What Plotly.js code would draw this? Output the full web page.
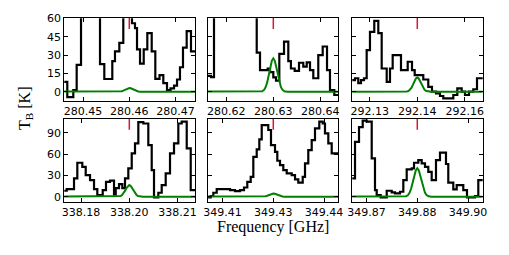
<!DOCTYPE html>
<html><head><meta charset="utf-8">
<script src="https://cdn.plot.ly/plotly-3.0.1.min.js"></script>
<style>html,body{margin:0;padding:0;background:#fff;} #chart{width:509px;height:255px;}</style>
</head><body><div id="chart"></div>
<script>
// Panel centre (rest) frequencies, GHz -- red markers
const lineFreqs = [280.46, 280.63, 292.145, 338.195, 349.43, 349.885];
// Tick positions (GHz) and their printed labels
const tickVals = [[280.45,280.46,280.47],[280.62,280.63,280.64],[292.13,292.145,292.16],
                  [338.18,338.195,338.21],[349.415,349.43,349.445],[349.87,349.885,349.90]];
const tickText = [["280.45","280.46","280.47"],["280.62","280.63","280.64"],["292.13","292.14","292.16"],
                  ["338.18","338.20","338.21"],["349.41","349.43","349.44"],["349.87","349.88","349.90"]];
const topYTicks = [0, 15, 30, 45, 60];
const botYTicks = [0, 30, 60, 90];

// Observed spectra: channel left edges as offsets from centre (MHz), brightness temperature (K)
const p1_dv = [-14.2,-13.42,-12.12,-11.39,-10.45,-6.34,-5.41,-3.68,-3.10,-2.16,-1.30,0.58,1.23,1.67,2.32,3.12,3.90,4.85,5.63,6.54,7.36,8.16,8.92,9.68,10.33,10.97,11.62,12.42,13.35,14.3];
const p1_tb = [8,-4.5,1.4,22,95,22.6,10.4,25,33,40,75,56,52,34.6,23,34.6,48,33,10.5,13.6,7,1.4,2.7,5,10,20,36,49.5,33,33];

const p2_dv = [-14.1,-13.26,-12.62,-3.53,-2.83,-1.19,-0.70,0,0.57,1.28,2.28,3.19,3.75,4.55,5.47,6.38,7.11,7.81,8.51,9.57,10.51,11.43,12.06,12.98,14.0];
const p2_tb = [13,12,80,32,17.7,19,16,11.7,9,31,41,25,19,17,23.7,20.5,24,17.7,11,30,37,17.7,1.4,-2.7,-2.7];

const p3_dv = [-20.7,-19.67,-18.63,-17.78,-16.83,-15.98,-14.94,-13.58,-12.31,-11.24,-9.66,-8.62,-7.77,-5.15,-3.03,-1.67,-0.82,1.89,3.47,4.64,5.90,7.17,8.21,11.37,12.63,14.02,15.06,16.32,17.68,18.85,20.8];
const p3_tb = [9.5,11,7,9.5,11,34,49,58,48,19,8,19,30,17.7,24.5,17.7,13.6,10,4,0,-1.4,-3.5,-5.5,-2.7,2.7,0,-2.7,0,2,11,11];

const p4_dv = [-20.4,-19.44,-17.17,-16.15,-14.60,-13.54,-12.20,-10.96,-9.94,-8.26,-7.24,-5.99,-4.75,-4.22,-3.20,-2.17,-1.34,-0.31,0.75,1.77,2.80,4.35,5.90,6.96,7.67,9.01,10.06,11.30,12.64,13.88,15.22,16.27,17.83,19.07,20.5];
const p4_tb = [8.4,10.8,25.8,47.8,42,30.5,23.4,10.8,2.3,9.4,21,22.5,3,12,17.8,12,25.8,40,61,75,105,103,72.6,37.5,-1,5.6,16.4,32.8,61,75,103,105.5,68,9.4,9.4];

const p5_dv = [-19.5,-18.48,-17.71,-16.71,-12.78,-11.31,-9.83,-8.65,-7.68,-6.67,-5.90,-4.90,-4.13,-3.42,-1.48,-0.68,0.50,1.18,1.98,2.95,3.96,5.43,6.41,7.38,8.68,9.36,10.33,11.34,12.31,13.58,14.59,15.26,16.24,17.24,19.4];
const p5_tb = [-1,1,5.6,10.8,9.4,8,9.4,13,21,28,56,66.6,80.6,100.8,93.8,72.7,63,50.6,44.5,37.5,32.8,30.5,24.4,19.7,28,47,65.6,79.7,96,105.5,103,89,75,61,61];

const p6_dv = [-19.4,-18.39,-17.21,-16.12,-14.94,-13.46,-12.49,-11.99,-10.81,-9.03,-7.56,-6.58,-5.11,-4.13,-3.13,-1.65,-0.97,0.30,1.30,2.27,3.25,4.25,5.52,6.70,8.47,9.15,10.63,11.63,13.58,14.67,17.04,18.01,19.5];
const p6_tb = [25.8,77,98,107,105.5,54,9.4,2.3,-1,8.4,6,4.7,7,23.4,38.4,40,47.8,51.6,47,42,35,23.4,51.6,62,46,19.7,10.3,16.4,9.4,-1,1,23.4,23.4];

// Model (green) profiles: offsets from centre (MHz) and temperature (K)
const m1_dv = [-25,-3.0,-2.36,-1.93,-1.61,-1.29,-0.97,-0.64,-0.32,0,0.32,0.64,0.97,1.29,1.61,1.93,2.36,3.0,25];
const m1_tb = [0,0,0.05,0.18,0.43,0.86,1.49,2.2,2.78,3,2.78,2.2,1.49,0.86,0.43,0.18,0.05,0,0];
const m2_dv = m1_dv;
const m2_tb = [0,0.03,0.41,1.65,3.9,7.84,13.54,19.98,25.25,27.3,25.25,19.98,13.54,7.84,3.9,1.65,0.41,0.03,0];
const m3_dv = [-25,-4.2,-3.32,-2.72,-2.26,-1.81,-1.36,-0.9,-0.45,0,0.45,0.9,1.36,1.81,2.26,2.72,3.32,4.2,25];
const m3_tb = [0,0.01,0.18,0.71,1.67,3.36,5.8,8.56,10.82,11.7,10.82,8.56,5.8,3.36,1.67,0.71,0.18,0.01,0];
const m4_dv = m3_dv;
const m4_tb = [0,0.02,0.25,0.99,2.35,4.71,8.13,12.0,15.17,16.4,15.17,12.0,8.13,4.71,2.35,0.99,0.25,0.02,0];
const m5_dv = m3_dv;
const m5_tb = [0,0,0.07,0.27,0.64,1.29,2.23,3.29,4.16,4.5,4.16,3.29,2.23,1.29,0.64,0.27,0.07,0,0];
const m6_dv = m3_dv;
const m6_tb = [0,0.04,0.61,2.42,5.72,11.48,19.84,29.28,37,40,37,29.28,19.84,11.48,5.72,2.42,0.61,0.04,0];

const steps = [[p1_dv,p1_tb],[p2_dv,p2_tb],[p3_dv,p3_tb],[p4_dv,p4_tb],[p5_dv,p5_tb],[p6_dv,p6_tb]];
const models = [[m1_dv,m1_tb],[m2_dv,m2_tb],[m3_dv,m3_tb],[m4_dv,m4_tb],[m5_dv,m5_tb],[m6_dv,m6_tb]];

// Layout geometry
const W = 509, H = 255;
const colPx = [[64.3,195],[207.7,338.3],[352.3,482.7]];
const rowPx = [[18.3,101],[119,201.7]];
const xSpanMHz = [[-14.07,14.22],[-13.96,13.83],[-20.52,20.65],[-20.19,20.40],[-19.37,19.19],[-19.19,19.31]];
const yRanges = [[-7.6,60.05],[-7.0,109.3]];

const tickFont = {family:'DejaVu Sans', size:11, color:'#000'};
const data = [], shapes = [];
const layout = {width:W, height:H, margin:{l:0,r:0,t:0,b:0}, paper_bgcolor:'#fff', plot_bgcolor:'#fff', showlegend:false};

for (let i = 0; i < 6; i++) {
  const r = Math.floor(i/3), c = i % 3, n = i + 1;
  const xa = 'x' + (n===1?'':n), ya = 'y' + (n===1?'':n);
  const f0 = lineFreqs[i];
  data.push({x: steps[i][0].map(d => f0 + d/1000), y: steps[i][1], xaxis: xa, yaxis: ya,
    type:'scatter', mode:'lines', line:{shape:'hv', color:'#000', width:2.2}, hoverinfo:'skip'});
  data.push({x: models[i][0].map(d => f0 + d/1000), y: models[i][1], xaxis: xa, yaxis: ya,
    type:'scatter', mode:'lines', line:{color:'#008000', width:2}, hoverinfo:'skip'});
  const axCommon = {showline:true, linecolor:'#000', linewidth:1, mirror:'allticks', ticks:'inside',
    ticklen:4, tickwidth:1, tickcolor:'#000', showgrid:false, zeroline:false, tickfont:tickFont, fixedrange:true};
  layout['xaxis' + (n===1?'':n)] = Object.assign({}, axCommon, {
    domain:[colPx[c][0]/W, colPx[c][1]/W],
    range:[f0 + xSpanMHz[i][0]/1000, f0 + xSpanMHz[i][1]/1000],
    tickmode:'array', tickvals:tickVals[i], ticktext:tickText[i], anchor: ya});
  layout['yaxis' + (n===1?'':n)] = Object.assign({}, axCommon, {
    domain:[1 - rowPx[r][1]/H, 1 - rowPx[r][0]/H],
    range: yRanges[r], tickmode:'array', tickvals: r===0 ? topYTicks : botYTicks,
    showticklabels: c===0, anchor: xa});
  shapes.push({type:'line', xref: xa, yref: ya + ' domain', x0:f0, x1:f0, y0:0.87, y1:1,
    line:{color:'#dc143c', width:1.5}, layer:'above'});
}
layout.shapes = shapes;
layout.annotations = [
  {text:'Frequency [GHz]', xref:'paper', yref:'paper', x:273.3/W, y:1-226.5/H, showarrow:false,
   xanchor:'center', yanchor:'middle', font:{family:'Liberation Serif', size:16, color:'#000'}},
  {text:'T<sub>B</sub> [K]', xref:'paper', yref:'paper', x:25/W, y:1-109/H, showarrow:false, textangle:-90,
   xanchor:'center', yanchor:'middle', font:{family:'Liberation Serif', size:16, color:'#000'}}
];
Plotly.newPlot('chart', data, layout, {staticPlot:true, displayModeBar:false});
</script></body></html>
